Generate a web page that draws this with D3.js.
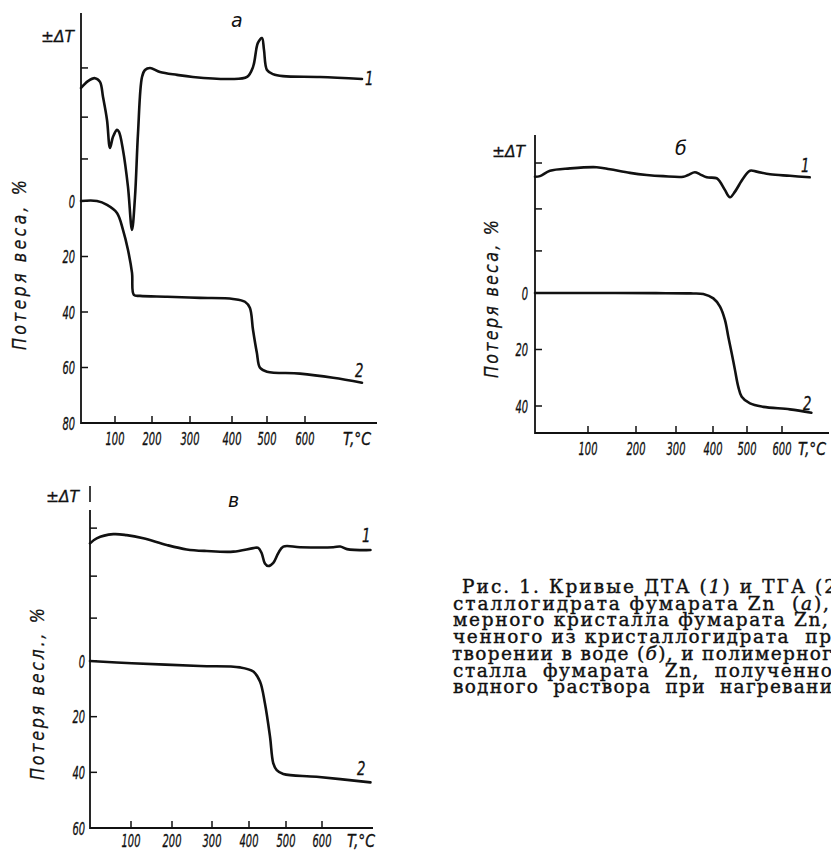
<!DOCTYPE html>
<html><head><meta charset="utf-8">
<script src="https://cdn.jsdelivr.net/npm/d3@7"></script>
<style>body{margin:0;background:#fff} svg{display:block} text{white-space:pre}</style>
</head><body><svg id="c" width="831" height="853"></svg>
<script>
// ---------- data ----------
const tempTicks = [100, 200, 300, 400, 500, 600];
const massTicksA = [0, 20, 40, 60, 80];
const massTicksB = [0, 20, 40];
const massTicksC = [0, 20, 40, 60];
const dtaTicksA = [64.4, 74.6, 86.6];
const dtaTicksB = [61.1, 75.2, 90.6];
const dtaTicksC = [66.0, 79.2, 94.3];

// panel а : DTA (1) and TGA (2)
const dtaA_T = [20,36.5,53,64.7,71.8,81.2,88.2,95.3,105.4,110.8,121.6,135.1,145.9,154,162.2,173,181,194.6,221,265.8,307,395,443,460,474,485.7,491.4,500,515.8,542,639.5,750];
const dtaA_V = [81.7,83.4,84.1,83.2,79.5,73.9,67.1,69.8,71.5,71.0,66.6,57.6,47.1,55.1,70.7,84.4,86.1,86.6,85.6,84.9,84.4,83.9,84.4,86.8,92.7,93.9,91.0,86.1,85.1,84.6,84.4,83.9];
const tgaA_T = [20,57.6,81.2,105.4,121.6,135,146,151,167.6,240,324,403,437,451,460,471,480,500,587,674,750];
const tgaA_W = [0,0,1.4,4.3,10.4,17.6,25.9,33.8,34.2,34.5,34.9,35.3,36.3,38.5,46.4,54.7,60.1,61.5,62.2,63.7,65.5];

// panel б
const dtaB_T = [20,27.5,42.6,72.8,118,145.8,187.5,226.8,268,319.7,333,351,364.9,383,410.9,420.6,435.3,450,464.7,489,508.6,527.7,565.7,622.9,680];
const dtaB_V = [86.0,86.2,88.0,88.8,89.2,88.5,87.3,86.6,86.2,86.0,86.6,87.5,86.8,85.8,85.5,84.3,81.5,79.1,81.0,85.5,88.0,87.7,86.8,86.3,85.8];
const tgaB_T = [20,118,250,340,373.8,401,420.6,435.3,445,455,464.7,474.4,484.4,508.6,546.6,622.9,684.9];
const tgaB_W = [0,0,0.05,0.15,0.35,1.9,4.8,9.6,15.5,21.3,27.3,33.2,36.7,39.1,40.3,41.2,42.4];

// panel в
const dtaC_T = [20,33,65.5,91.6,130,187,236.8,286.8,357.6,411.6,425,434.3,443,452,465.7,479,492.7,538.9,631,650,668.6,733];
const dtaC_V = [89.5,91.1,92.4,92.1,91.1,89.0,87.6,87.1,86.9,88.0,88.1,86.4,83.2,82.4,83.4,86.4,88.5,88.3,88.3,88.5,87.7,87.4];
const tgaC_T = [20,102,270,375.7,411.6,429.7,443,456.8,465.7,474.9,492.7,585,733];
const tgaC_W = [0,0.8,1.8,2.3,3.8,7.4,15.2,27.2,36.8,39.2,40.6,41.6,43.6];

const captionLines = [
  [["Рис. 1. Кривые ДТА ("],["1",1],[") и ТГА (2"]],
  [["сталлогидрата фумарата Zn  ("],["а",1],["),"]],
  [["мерного кристалла фумарата Zn,"]],
  [["ченного из кристаллогидрата  пр"]],
  [["творении в воде ("],["б",1],["), и полимерног"]],
  [["сталла  фумарата  Zn,  полученно"]],
  [["водного  раствора  при  нагревани"]]
];

// ---------- layout ----------
const svg = d3.select("#c");
svg.append("rect").attr("width",831).attr("height",853).attr("fill","#fff");
const SANS = "DejaVu Sans, sans-serif";
const INK = "#111";

const panels = [
  {name:"а", xDom:[20,100,200,300,400,500,600,800], xRng:[81,115,152,190,232,267,305,381], xEnd:377,
   yTop:13, yBot:423, mDom:[0,80], mRng:[201,423], mTicks:massTicksA, dTicks:dtaTicksA,
   dta:[dtaA_T,dtaA_V], tga:[tgaA_T,tgaA_W], dTx:41, dTy:42, nx:231, ny:27,
   ylab:"Потеря веса, %", ylx:26, yly:265, yll:170, xlb:445, tcx:343, l1:[365,85], l2:[355,377], tickR:75},
  {name:"б", xDom:[20,100,200,300,400,500,600,730], xRng:[535,588,636,676,713,747,782,827], xEnd:829,
   yTop:135, yBot:433, mDom:[0,40], mRng:[293,406], mTicks:massTicksB, dTicks:dtaTicksB,
   dta:[dtaB_T,dtaB_V], tga:[tgaB_T,tgaB_W], dTx:492, dTy:157, nx:675, ny:155,
   ylab:"Потеря веса, %", ylx:498, yly:299, yll:158, xlb:455, tcx:798, l1:[801,172], l2:[803,410], tickR:528},
  {name:"в", xDom:[20,100,200,300,400,500,600,740], xRng:[90,131,172,212,249,286,322,373], xEnd:373,
   yTop:510, yBot:828, mDom:[0,60], mRng:[661,828], mTicks:massTicksC, dTicks:dtaTicksC,
   dta:[dtaC_T,dtaC_V], tga:[tgaC_T,tgaC_W], dTx:46, dTy:502, nx:228, ny:507, bar:[486,502],
   ylab:"Потеря весл., %", ylx:44, yly:694, yll:172, xlb:847, tcx:347, l1:[362,542], l2:[357,775], tickR:85}
];

function condText(g, x, y, str, size, sx, anchor){
  return g.append("text").attr("transform",`translate(${x},${y}) scale(${sx},1)`)
    .attr("text-anchor",anchor||"start").attr("font-family",SANS).attr("font-style","italic")
    .attr("font-size",size).attr("fill",INK).attr("stroke",INK).attr("stroke-width",0.35).text(str);
}

panels.forEach(p=>{
  const g = svg.append("g");
  const x = d3.scaleLinear().domain(p.xDom).range(p.xRng);
  const ym = d3.scaleLinear().domain(p.mDom).range(p.mRng);
  const yd = d3.scaleLinear().domain([0,100]).range([p.yBot,p.yTop]);
  const x0 = p.xRng[0];

  // axes lines
  g.append("path").attr("d",`M${x0},${p.yTop}V${p.yBot}H${p.xEnd}`)
    .attr("fill","none").attr("stroke",INK).attr("stroke-width",1.8);
  if(p.bar) g.append("line").attr("x1",x0).attr("x2",x0).attr("y1",p.bar[0]).attr("y2",p.bar[1])
    .attr("stroke",INK).attr("stroke-width",1.6);

  // x ticks (inward)
  g.selectAll(".xt").data(tempTicks).join("line")
    .attr("x1",d=>x(d)).attr("x2",d=>x(d)).attr("y1",p.yBot).attr("y2",p.yBot-7)
    .attr("stroke",INK).attr("stroke-width",1.5);
  tempTicks.forEach(t=>condText(g, x(t), p.xlb, String(t), 18, 0.55, "middle"));
  condText(g, p.tcx, p.xlb, "T,°C", 18, 0.78, "start");

  // y ticks: mass (labeled) and dta (unlabeled)
  const yt = p.mTicks.filter(d=>ym(d) < p.yBot-1);
  g.selectAll(".yt").data(yt).join("line")
    .attr("x1",x0).attr("x2",x0+7).attr("y1",d=>ym(d)).attr("y2",d=>ym(d))
    .attr("stroke",INK).attr("stroke-width",1.5);
  g.selectAll(".dt").data(p.dTicks).join("line")
    .attr("x1",x0).attr("x2",x0+7).attr("y1",d=>yd(d)).attr("y2",d=>yd(d))
    .attr("stroke",INK).attr("stroke-width",1.5);
  p.mTicks.forEach(m=>condText(g, p.tickR, ym(m)+6.5, String(m), 18, 0.55, "end"));

  // axis labels
  g.append("text").attr("x",p.dTx).attr("y",p.dTy).attr("font-family",SANS).attr("font-style","italic")
    .attr("font-size",15.5).attr("fill",INK).attr("stroke",INK).attr("stroke-width",0.3).text("±ΔT");
  g.append("text").attr("x",p.nx).attr("y",p.ny).attr("font-family",SANS).attr("font-style","italic")
    .attr("font-size",19).attr("fill",INK).text(p.name);
  g.append("text").attr("transform",`translate(${p.ylx},${p.yly}) rotate(-90) scale(0.8,1)`)
    .attr("text-anchor","middle").attr("font-family",SANS).attr("font-style","italic")
    .attr("font-size",20).attr("fill",INK).attr("stroke",INK).attr("stroke-width",0.25)
    .attr("textLength",p.yll/0.8).attr("lengthAdjust","spacing").text(p.ylab);

  // curves
  const line = (yy)=>d3.line().x(d=>x(d[0])).y(d=>yy(d[1])).curve(d3.curveCatmullRom.alpha(0.5));
  const dtaPts = d3.zip(p.dta[0], p.dta[1]);
  const tgaPts = d3.zip(p.tga[0], p.tga[1]);
  g.append("path").attr("d",line(yd)(dtaPts)).attr("fill","none").attr("stroke",INK)
    .attr("stroke-width",2.6).attr("stroke-linejoin","round").attr("stroke-linecap","round");
  g.append("path").attr("d",line(ym)(tgaPts)).attr("fill","none").attr("stroke",INK)
    .attr("stroke-width",2.6).attr("stroke-linejoin","round").attr("stroke-linecap","round");
  condText(g, p.l1[0], p.l1[1], "1", 19, 0.7, "start");
  condText(g, p.l2[0], p.l2[1], "2", 19, 0.7, "start");
});

// caption
const capX = [462,453,453,453,452,453,453];
const capLen = [374,376,375,378,380,379,379];
captionLines.forEach((parts,i)=>{
  const t = svg.append("text").attr("x",capX[i]).attr("y",593+16.7*i)
    .attr("font-family","DejaVu Serif, serif").attr("font-size",18.5).attr("fill",INK)
    .attr("stroke",INK).attr("stroke-width",0.4)
    .attr("textLength",capLen[i]).attr("lengthAdjust","spacing");
  parts.forEach(pt=>{
    const s = t.append("tspan").text(pt[0]);
    if(pt[1]) s.attr("font-style","italic");
  });
});
</script></body></html>
